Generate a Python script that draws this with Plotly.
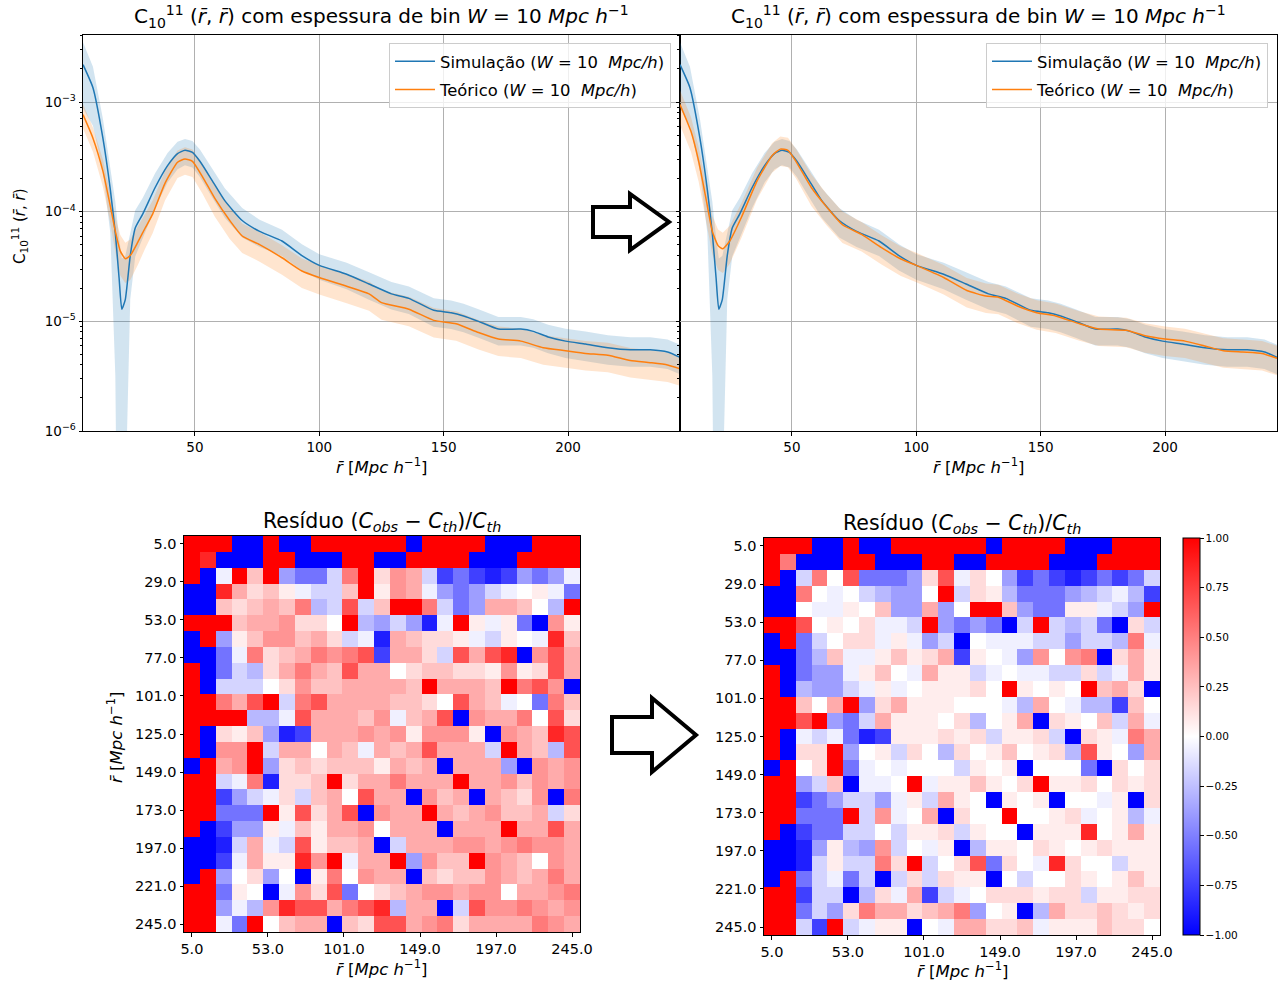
import plotly.graph_objects as go

W, H = 1288, 985
FONT = "DejaVu Sans"

# ---------------- data: top panels ----------------
sim_x = [5, 9, 13, 16, 18, 19.5, 20.6, 22, 24, 26, 29, 34, 39, 43, 46, 49, 52, 57, 62, 69, 76, 85, 93,
         100, 111, 120, 129, 136, 146, 153, 158, 164, 172, 181, 186, 192, 199, 207, 216, 225, 233, 240, 245]
sim = [2.19e-3, 1.35e-3, 4.68e-4, 1.58e-4, 6.3e-5, 2.5e-5, 1.29e-5, 1.58e-5, 3.98e-5, 7.1e-5, 9.5e-5,
       1.66e-4, 2.63e-4, 3.39e-4, 3.63e-4, 3.47e-4, 2.88e-4, 1.91e-4, 1.26e-4, 8.3e-5, 6.6e-5, 5.4e-5,
       3.98e-5, 3.24e-5, 2.69e-5, 2.19e-5, 1.78e-5, 1.62e-5, 1.26e-5, 1.20e-5, 1.12e-5, 1.0e-5, 8.5e-6,
       8.5e-6, 8.1e-6, 7.2e-6, 6.6e-6, 6.2e-6, 5.75e-6, 5.5e-6, 5.5e-6, 5.25e-6, 4.7e-6]
sim_err_rel = [0.6, 0.55, 0.5, 0.6, 0.95, 1.3, 1.9, 1.5, 0.6, 0.45, 0.4, 0.35, 0.3, 0.28, 0.27, 0.27,
               0.28, 0.3, 0.3, 0.3, 0.28, 0.27, 0.27, 0.26, 0.27, 0.28, 0.28, 0.28, 0.29, 0.29, 0.29,
               0.29, 0.29, 0.29, 0.29, 0.29, 0.3, 0.3, 0.3, 0.3, 0.3, 0.3, 0.3]

th_left_x = [5, 9, 13, 16, 18, 20, 22, 24, 27, 30, 33, 38, 43, 46, 49, 53, 58, 64, 69, 76, 85, 93, 100,
             111, 120, 125, 136, 146, 155, 164, 172, 181, 190, 199, 207, 216, 225, 233, 240, 245]
th_left = [7.67e-4, 4.68e-4, 2.34e-4, 1.12e-4, 6.6e-5, 4.37e-5, 3.72e-5, 3.98e-5, 5.25e-5, 7.1e-5,
           9.5e-5, 1.82e-4, 2.82e-4, 3.02e-4, 2.88e-4, 2.09e-4, 1.32e-4, 8.3e-5, 6.0e-5, 5.0e-5,
           3.8e-5, 2.88e-5, 2.51e-5, 2.09e-5, 1.78e-5, 1.48e-5, 1.29e-5, 1.02e-5, 9.5e-6, 7.9e-6,
           6.9e-6, 6.6e-6, 5.75e-6, 5.4e-6, 5.1e-6, 4.9e-6, 4.4e-6, 4.2e-6, 4.0e-6, 3.7e-6]
th_left_err_rel = [0.25, 0.25, 0.28, 0.3, 0.35, 0.4, 0.4, 0.4, 0.38, 0.35, 0.33, 0.3, 0.28, 0.28, 0.28,
                   0.3, 0.32, 0.32, 0.3, 0.3, 0.3, 0.3, 0.3, 0.3, 0.3, 0.3, 0.3, 0.3, 0.3, 0.3, 0.3,
                   0.3, 0.3, 0.3, 0.3, 0.3, 0.3, 0.3, 0.3, 0.3]

th_right_x = [5, 9.4, 12.5, 15.6, 18, 20.3, 22.2, 25, 29.7, 36, 42, 45.3, 48.4, 51.6, 57.8, 64, 70.3,
              78, 86, 93.8, 100, 111, 120.3, 128, 133, 140.6, 148.4, 156, 165.6, 173.4, 184.4, 192,
              200, 208, 215.6, 223.4, 231.2, 239, 245]
th_right = [9.5e-4, 5.4e-4, 2.88e-4, 1.26e-4, 6.6e-5, 4.9e-5, 4.6e-5, 5.4e-5, 8.9e-5, 1.91e-4, 3.24e-4,
            3.72e-4, 3.63e-4, 2.88e-4, 1.66e-4, 1.10e-4, 7.6e-5, 6.2e-5, 4.7e-5, 3.7e-5, 3.24e-5,
            2.51e-5, 1.91e-5, 1.70e-5, 1.66e-5, 1.38e-5, 1.20e-5, 1.12e-5, 9.5e-6, 8.5e-6, 8.3e-6,
            7.4e-6, 6.9e-6, 6.6e-6, 6.0e-6, 5.4e-6, 5.25e-6, 5.1e-6, 4.6e-6]
th_right_err_rel = [0.35, 0.35, 0.35, 0.35, 0.38, 0.4, 0.4, 0.38, 0.35, 0.32, 0.3, 0.3, 0.3, 0.3, 0.32,
                    0.32, 0.32, 0.3, 0.3, 0.3, 0.3, 0.3, 0.3, 0.3, 0.3, 0.3, 0.3, 0.3, 0.3, 0.3, 0.3,
                    0.3, 0.3, 0.3, 0.3, 0.3, 0.3, 0.3, 0.3]

x_ticks_top = [50, 100, 150, 200]
y_ticks_top = [1e-6, 1e-5, 1e-4, 1e-3]
y_ticktext_top = ["10<sup>−6</sup>", "10<sup>−5</sup>", "10<sup>−4</sup>", "10<sup>−3</sup>"]

# ---------------- data: residual heatmaps ----------------
r_bins = [5, 15, 25, 35, 45, 55, 65, 75, 85, 95, 105, 115, 125, 135, 145, 155, 165, 175, 185, 195,
          205, 215, 225, 235, 245]
hm_xticks = [5, 53, 101, 149, 197, 245]
hm_yticks = [5, 29, 53, 77, 101, 125, 149, 173, 197, 221, 245]

# colour level read per cell (bwr scale, -1..1)
RESIDUAL_LEVELS = {"R": 1.0, "r": 0.85, "t": 0.68, "o": 0.52, "h": 0.42, "p": 0.33, "q": 0.24,
                   "k": 0.14, "s": 0.07, "w": 0.0, "e": -0.06, "c": -0.17, "d": -0.28, "l": -0.38,
                   "m": -0.55, "n": -0.75, "N": -0.88, "B": -1.0}

resid_before_rows = [
    "RRRBBRBBRRRRRRBRRRRBBBRRR",
    "RrBBBRRBBBRRBBRRRRBBBRRRR",
    "RBeRqRlmmcoRkhpcnmnNnlmle",
    "BBrpkqseccqRshpelmlcewsem",
    "BBqkqpqodctcqRRocmlppqwdR",
    "RRRqpphkkwRdlclNeRsesmBhs",
    "BRlsqhhqpkceNpqkksecswerq",
    "BBmeokqpohotnppkctptrBhtp",
    "RBmcdkpopqtppwkqqkkshsktp",
    "RBcccwkhqqppppqRpppqRothB",
    "RRoptRcotppppqqkwtpqewmoq",
    "RRRRddetpppqheqptBhppowtk",
    "RBksqlNnppphphshhhsBhpqrt",
    "RBhhRcppwpqepqptpppcRpqdt",
    "BRphRlkqkqqqspqpBppplBhph",
    "RRceoNkkqRkppopppRpphqhph",
    "RRnlcekcqpwtppBhqpBpqkhBo",
    "RRmmmRstkptBhppRpqphqqpck",
    "RBnllseqspphwpppBpppRpptp",
    "BBNcpectsqqpBcppphhphohhp",
    "BBnepssrhReppRlhqqRhpqwhp",
    "BRlwklwBsowhppBqkqqhpqpop",
    "RRmswBehktmwkqphhphhwppho",
    "RRledhrttpotrdppBcthhohph",
    "RRemRwqppBqkttphokppppohp",
]
resid_after_rows = [
    "RRRBBRBBRRRRRRBRRRRBBBRRR",
    "RoBBBRRBBBRRBBRRRRBBBRRRR",
    "RBcowtmmmlktekwlnmnNnmnmc",
    "BBowewcdllwRcksdmmmldcedn",
    "BBweeswqllplwRRqlmmsseclR",
    "RRtwswkeecRlmlmBcRcdcmBkc",
    "BRmcwkkeselcBweeecclccdoe",
    "BBmdqeesqskpnswelhwhoBkps",
    "RBmllesqwepssceweecckceps",
    "RBdllcesewssskwRswswRqpkB",
    "RRqwpRlkpssswwwedpweddnqw",
    "RRtRlmcpssswkdwspBkswqcpe",
    "RBecemNnssskskcsskcBkseop",
    "RBkkRlwsckwdkwsqwskdtswlp",
    "BRwkRmewewwwcswsBwwwmBkwk",
    "RRlcqBeewRessqswkRsskwksk",
    "RRnmlcclescpswBswsBwwesBk",
    "RRmmmRchewpBkwwRwwskewsde",
    "RBnmmccwcsskcswwBsssrwsps",
    "BBNlsdlhcwesBdsswkswsksss",
    "BBNcsccokRcwktmkwerkwwcss",
    "BRmcemcBckckssBwcwwkswsqs",
    "RRnccBdkepncewkkkskkcsskk",
    "RRmclkoppkqpolwsBdpkkqksk",
    "RRcnRcessBweppkkqesssqkkw",
]
cbar_ticks = [-1.0, -0.75, -0.5, -0.25, 0.0, 0.25, 0.5, 0.75, 1.0]

# ---------------- helpers ----------------
def decode(rows):
    out = []
    for i, row in enumerate(rows):
        assert len(row) == 25, (i, len(row))
        out.append([RESIDUAL_LEVELS[ch] for ch in row])
    return out

def band(x, v, f):
    hi = [a * (1 + b) for a, b in zip(v, f)]
    lo = [a * (1 - b) if b < 1 else 1e-9 for a, b in zip(v, f)]
    return list(x) + list(x)[::-1], hi + lo[::-1]

def fx(p):
    return p / W

def fy(p):
    return 1 - p / H

BLUE = "#1f77b4"
ORANGE = "#ff7f0e"
BLUE_FILL = "rgba(31,119,180,0.2)"
ORANGE_FILL = "rgba(255,127,14,0.2)"

fig = go.Figure()

panels = [("x", "y", th_left_x, th_left, th_left_err_rel, "legend"),
          ("x2", "y2", th_right_x, th_right, th_right_err_rel, "legend2")]
for xa, ya, tx, tv, tf, lg in panels:
    bx, by = band(sim_x, sim, sim_err_rel)
    fig.add_trace(go.Scatter(x=bx, y=by, fill="toself", fillcolor=BLUE_FILL, line=dict(width=0),
                             mode="lines", showlegend=False, hoverinfo="skip", xaxis=xa, yaxis=ya))
    bx, by = band(tx, tv, tf)
    fig.add_trace(go.Scatter(x=bx, y=by, fill="toself", fillcolor=ORANGE_FILL, line=dict(width=0),
                             mode="lines", showlegend=False, hoverinfo="skip", xaxis=xa, yaxis=ya))
    fig.add_trace(go.Scatter(x=sim_x, y=sim, mode="lines",
                             line=dict(color=BLUE, width=1.5, shape="spline", smoothing=0.5),
                             name="Simulação (<i>W</i> = 10  <i>Mpc/h</i>)", legend=lg,
                             legendgroup="sim" + lg, xaxis=xa, yaxis=ya))
    fig.add_trace(go.Scatter(x=tx, y=tv, mode="lines",
                             line=dict(color=ORANGE, width=1.5, shape="spline", smoothing=0.5),
                             name="Teórico (<i>W</i> = 10  <i>Mpc/h</i>)", legend=lg,
                             legendgroup="th" + lg, xaxis=xa, yaxis=ya))

bwr = [[0.0, "#0000ff"], [0.5, "#ffffff"], [1.0, "#ff0000"]]
fig.add_trace(go.Heatmap(z=decode(resid_before_rows), x=r_bins, y=r_bins, colorscale=bwr,
                         zmin=-1, zmax=1, showscale=False, xaxis="x3", yaxis="y3", hoverinfo="skip"))
fig.add_trace(go.Heatmap(z=decode(resid_after_rows), x=r_bins, y=r_bins, colorscale=bwr,
                         zmin=-1, zmax=1, xaxis="x4", yaxis="y4", hoverinfo="skip",
                         colorbar=dict(x=fx(1183), xanchor="left", y=fy(736.5), yanchor="middle",
                                       len=397 / H, lenmode="fraction", thickness=17,
                                       thicknessmode="pixels", outlinewidth=1, outlinecolor="black",
                                       xpad=0, ypad=0,
                                       ticks="outside", ticklen=3.5, tickcolor="black",
                                       tickvals=cbar_ticks,
                                       ticktext=[f"{v:.2f}".replace("-", "−") for v in cbar_ticks],
                                       tickfont=dict(size=10.5, family=FONT, color="black"))))

common = dict(showline=True, linecolor="black", linewidth=1, mirror=True, ticks="outside",
              ticklen=3.5, tickcolor="black", zeroline=False, automargin=False,
              tickfont=dict(size=13.5, family=FONT, color="black"))
minor_vals = [k * 10.0 ** e for e in range(-6, -2) for k in range(2, 10)]
ytop = dict(common, type="log", range=[-6, -2.389], tickvals=y_ticks_top, ticktext=y_ticktext_top,
            showgrid=True, gridcolor="#b0b0b0", gridwidth=0.8,
            minor=dict(ticks="outside", ticklen=2, tickcolor="black", tickvals=minor_vals, showgrid=False),
            domain=[fy(431), fy(35)])
xtop = dict(common, range=[5, 245], tickvals=x_ticks_top, showgrid=True, gridcolor="#b0b0b0",
            gridwidth=0.8)
hm_common = dict(common, showgrid=False, tickfont=dict(size=14.5, family=FONT, color="black"))

legend_style = dict(xanchor="right", yanchor="top", bgcolor="rgba(255,255,255,0.8)",
                    bordercolor="#cccccc", borderwidth=1, tracegroupgap=4, itemwidth=40,
                    font=dict(size=16.4, family=FONT, color="black"))

fig.update_layout(
    width=W, height=H, template="none", margin=dict(l=0, r=0, t=0, b=0),
    paper_bgcolor="white", plot_bgcolor="white", font=dict(family=FONT, color="black"),
    xaxis=dict(xtop, domain=[fx(83), fx(680)], anchor="y"),
    yaxis=dict(ytop, anchor="x"),
    xaxis2=dict(xtop, domain=[fx(680), fx(1277)], anchor="y2"),
    yaxis2=dict(ytop, anchor="x2", showticklabels=False),
    xaxis3=dict(hm_common, domain=[fx(184), fx(580)], anchor="y3", range=[0, 250],
                tickvals=hm_xticks, ticktext=[f"{v:.1f}" for v in hm_xticks]),
    yaxis3=dict(hm_common, domain=[fy(932), fy(536)], anchor="x3", range=[250, 0],
                tickvals=hm_yticks, ticktext=[f"{v:.1f}" for v in hm_yticks]),
    xaxis4=dict(hm_common, domain=[fx(764), fx(1160)], anchor="y4", range=[0, 250],
                tickvals=hm_xticks, ticktext=[f"{v:.1f}" for v in hm_xticks]),
    yaxis4=dict(hm_common, domain=[fy(935), fy(538)], anchor="x4", range=[250, 0],
                tickvals=hm_yticks, ticktext=[f"{v:.1f}" for v in hm_yticks]),
    legend=dict(legend_style, x=fx(671), y=fy(43)),
    legend2=dict(legend_style, x=fx(1268), y=fy(43)),
)

title_top = ("C<sub>10</sub><sup>11</sup> (<i>r̄</i>, <i>r̄</i>) com espessura de bin "
             "<i>W</i> = 10 <i>Mpc h</i><sup>−1</sup>")
rlabel = "<i>r̄</i> [<i>Mpc h</i><sup>−1</sup>]"
resid_title = "Resíduo (<i>C<sub>obs</sub></i> − <i>C<sub>th</sub></i>)/<i>C<sub>th</sub></i>"

annots = [
    (381.5, 17, title_top, 20, 0),
    (978.5, 17, title_top, 20, 0),
    (381.5, 466, rlabel, 16.5, 0),
    (978.5, 466, rlabel, 16.5, 0),
    (20, 226, "C<sub>10</sub><sup>11</sup> (<i>r̄</i>, <i>r̄</i>)", 15, -90),
    (382, 522, resid_title, 20.5, 0),
    (962, 524, resid_title, 20.5, 0),
    (382, 968, rlabel, 16.5, 0),
    (962, 970, rlabel, 16.5, 0),
    (115, 738, rlabel, 16.5, -90),
]
for px, py, txt, sz, ang in annots:
    fig.add_annotation(x=fx(px), y=fy(py), xref="paper", yref="paper", text=txt, showarrow=False,
                       xanchor="center", yanchor="middle", textangle=ang,
                       font=dict(size=sz, family=FONT, color="black"))

def arrow(pts):
    path = "M " + " L ".join(f"{fx(a):.5f},{fy(b):.5f}" for a, b in pts) + " Z"
    fig.add_shape(type="path", path=path, xref="paper", yref="paper",
                  line=dict(color="black", width=4), fillcolor="white", layer="above")

arrow([(593, 207), (630, 207), (630, 194), (669, 222), (630, 250), (630, 237), (593, 237)])
arrow([(612, 717), (652, 717), (652, 698), (696, 735), (652, 772), (652, 753), (612, 753)])

fig.write_html("out.html", config={"displayModeBar": False},
               post_script="document.body.style.margin='0px';document.body.style.overflow='hidden';")
